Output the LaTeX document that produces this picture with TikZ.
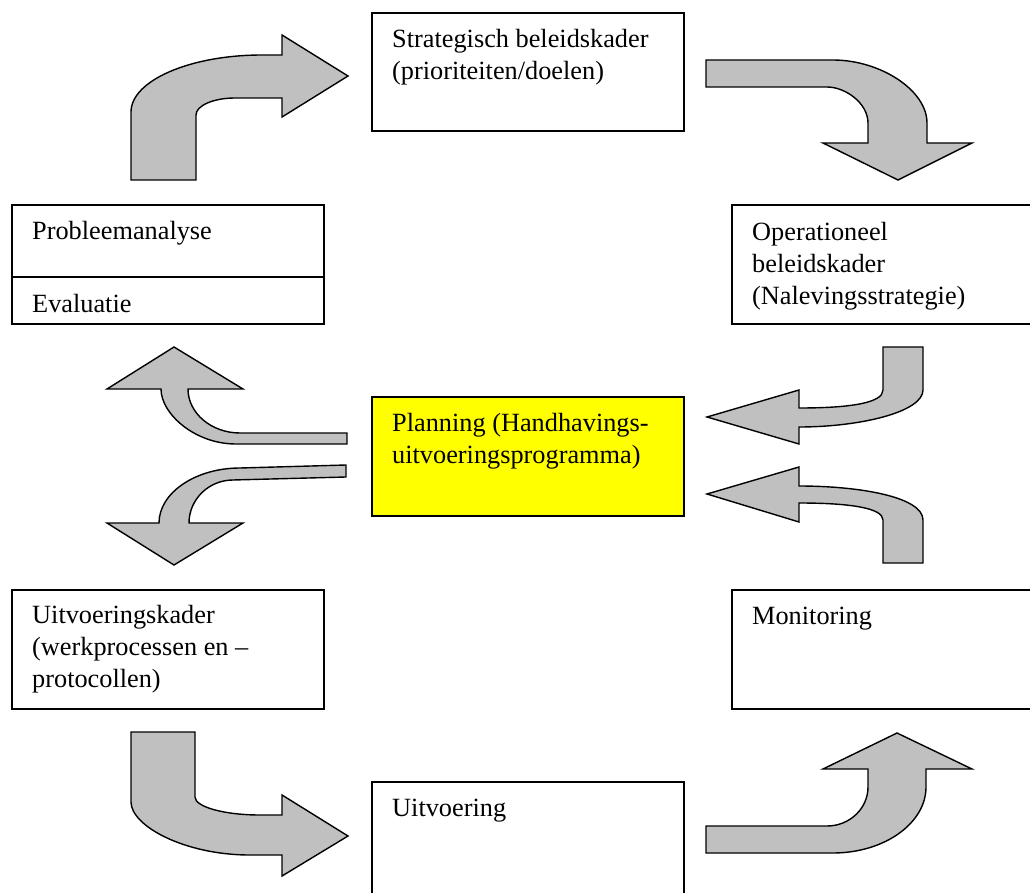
\documentclass[tikz,border=0pt]{standalone}
\usepackage{fontspec}
\setmainfont{Liberation Serif}
\definecolor{arrowgray}{HTML}{C0C0C0}
\definecolor{planyellow}{HTML}{FFFF00}
\begin{document}
\begin{tikzpicture}[x=1pt,y=-1pt,
  boxnode/.style={draw=black,line width=1.9pt,fill=white,anchor=north west,inner sep=0pt,minimum width=312pt},
  labelnode/.style={anchor=base west,inner sep=0pt,align=left,font=\fontsize{26.3}{32}\selectfont},
  blockarrow/.style={draw=black,line width=1.4pt,fill=arrowgray,line join=miter}]
\useasboundingbox (0,0) rectangle (1030,893);
\clip (0,0) rectangle (1030,893);

% boxes
\node[boxnode,minimum height=118pt] (strat) at (371,12) {};
\node[boxnode,minimum height=119pt] (prob) at (11,204) {};
\draw[line width=1.9pt] (prob.west |- 0,277) coordinate (divl) -- (prob.east |- 0,277) coordinate (divr);
\node[boxnode,minimum height=119pt] (oper) at (731,204) {};
\node[boxnode,minimum height=119pt,fill=planyellow] (plan) at (371,396) {};
\node[boxnode,minimum height=119pt] (uitk) at (11,589) {};
\node[boxnode,minimum height=119pt] (moni) at (731,589) {};
\node[boxnode,minimum height=130pt] (uitv) at (371,781) {};

% labels (anchor base = baseline of last line)
\node[labelnode] (tstrat) at ([shift={(21,68)}]strat.north west) {Strategisch beleidskader\\(prioriteiten/doelen)};
\node[labelnode] (tprob) at ([shift={(21,36)}]prob.north west) {Probleemanalyse};
\node[labelnode] (teval) at ([shift={(21,35)}]divl) {Evaluatie};
\node[labelnode] (toper) at ([shift={(21,100)}]oper.north west) {Operationeel\\beleidskader\\(Nalevingsstrategie)};
\node[labelnode] (tplan) at ([shift={(21,67)}]plan.north west) {Planning (Handhavings-\\uitvoeringsprogramma)};
\node[labelnode] (tuitk) at ([shift={(21,98)}]uitk.north west) {Uitvoeringskader\\(werkprocessen en –\\protocollen)};
\node[labelnode] (tmoni) at ([shift={(21,35)}]moni.north west) {Monitoring};
\node[labelnode] (tuitv) at ([shift={(21,35)}]uitv.north west) {Uitvoering};

% arrow 1: Probleemanalyse -> Strategisch
\draw[blockarrow] (131,180) -- (131,112) .. controls (131,80.6) and (190,55) .. (262,55) -- (282,55) -- (282,35) -- (348,76) -- (282,117) -- (282,98) -- (235,98) .. controls (213.5,98) and (196,105.6) .. (196,115) -- (196,180) -- cycle;

% arrow 2: Strategisch -> Operationeel
\draw[blockarrow] (706,60) -- (833,60) .. controls (880,60) and (927,90) .. (927,123) -- (927,143) -- (972,143) -- (898,180) -- (823,143) -- (868,143) -- (868,123) .. controls (868,103.2) and (845.4,87) .. (827,87) -- (706,87) -- cycle;

% arrow 3: Planning -> Evaluatie
\draw[blockarrow] (174,347) -- (243,389) -- (188,389) .. controls (188,413.2) and (211.4,433) .. (240,433) -- (347,433) -- (347,444) -- (236,444) .. controls (194.8,444) and (161,413.8) .. (161,389) -- (107,389) -- cycle;

% arrow 4: Planning -> Uitvoeringskader
\draw[blockarrow] (346,465) -- (240,468) .. controls (195.5,468) and (159,492.8) .. (159,523) -- (107,523) -- (174,565) -- (243,523) -- (189,523) .. controls (189,499.4) and (208.8,480) .. (233,480) -- (346,477) -- cycle;

% arrow 5: Operationeel -> Planning
\draw[blockarrow] (883,347) -- (923,347) -- (923,390) .. controls (923,412) and (860,427) .. (799,427) -- (799,444) -- (707,417) -- (799,390) -- (799,408) .. controls (850,408) and (883,403) .. (883,390) -- cycle;

% arrow 6: Monitoring -> Planning
\draw[blockarrow] (799,467) -- (707,494) -- (799,522) -- (799,503) .. controls (850,503) and (883,508) .. (883,520) -- (883,563) -- (923,563) -- (923,520) .. controls (923,497) and (860,486) .. (799,486) -- cycle;

% arrow 7: Uitvoeringskader -> Uitvoering
\draw[blockarrow] (131,732) -- (195,732) -- (195,797) .. controls (195,806.9) and (224.25,815) .. (260,815) -- (282,815) -- (282,795) -- (348,836) -- (282,876) -- (282,855) -- (250,855) .. controls (184.5,855) and (131,825.9) .. (131,802) -- cycle;

% arrow 8: Uitvoering -> Monitoring
\draw[blockarrow] (706,826) -- (827,826) .. controls (849.6,826) and (868,808.5) .. (868,787) -- (868,769) -- (823,769) -- (897,733) -- (972,769) -- (926,769) -- (926,787) .. controls (926,823.3) and (884.2,853) .. (833,853) -- (706,853) -- cycle;
\end{tikzpicture}
\end{document}
